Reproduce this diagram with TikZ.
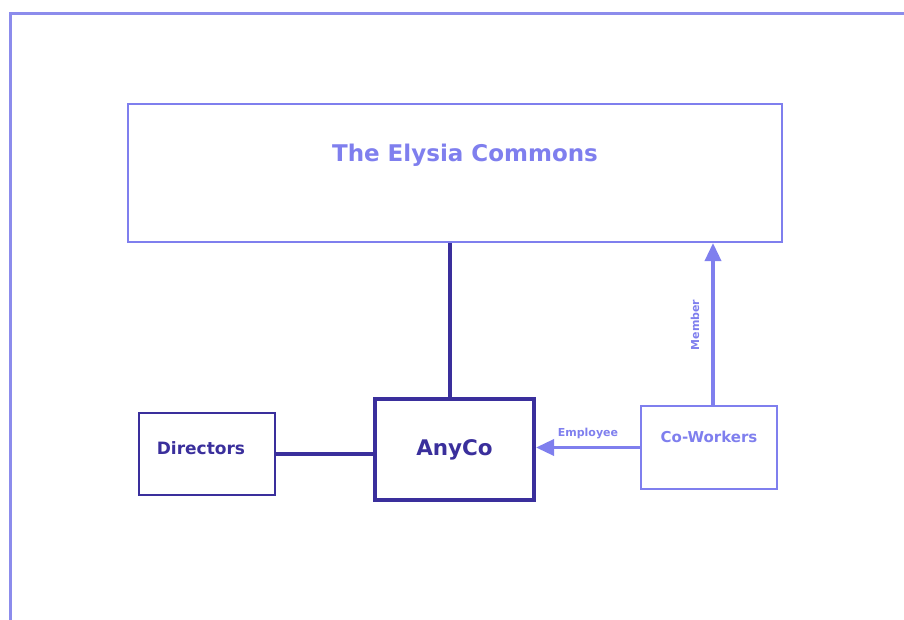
\documentclass[tikz,border=0pt]{standalone}
\usepackage{fontspec}
\setmainfont{DejaVu Sans}
\usetikzlibrary{arrows.meta,positioning}

\definecolor{lightc}{HTML}{7F7FEE}
\definecolor{darkc}{HTML}{3A2F9C}
\definecolor{framec}{HTML}{8C8CEC}

\begin{document}
\begin{tikzpicture}[x=1pt,y=-1pt,
  lightbox/.style={draw=lightc,line width=2pt,inner sep=0pt},
  darkbox/.style={draw=darkc,line width=2.5pt,inner sep=0pt},
  darkline/.style={draw=darkc,line width=4pt},
  lightarrow/.style={draw=lightc,line width=3.5pt,-{Triangle[length=18pt,width=16pt]}},
  smalltext/.style={text=lightc,font=\bfseries\fontsize{11}{13}\selectfont}]
\useasboundingbox (0,0) rectangle (904,620);
\draw[framec,line width=3pt] (10,630) -- (10,14) -- (914,14);

\node[lightbox,minimum width=654pt,minimum height=138pt,
  label={[text=lightc,font=\bfseries\fontsize{23}{27}\selectfont,xshift=10pt,yshift=18pt]center:The Elysia Commons}]
  (commons) at (455,173) {};
\node[darkbox,minimum width=136pt,minimum height=82pt,
  label={[text=darkc,font=\bfseries\fontsize{17}{20}\selectfont,xshift=-6pt,yshift=6pt]center:Directors}]
  (directors) at (207,454) {};
\node[darkbox,line width=4pt,minimum width=159pt,minimum height=101pt,
  text=darkc,font=\bfseries\fontsize{21.5}{25}\selectfont]
  (anyco) at (454.5,449.5) {AnyCo};
\node[lightbox,minimum width=136pt,minimum height=83pt,
  label={[text=lightc,font=\bfseries\fontsize{15}{18}\selectfont,yshift=11pt]center:Co-Workers}]
  (coworkers) at (709,447.5) {};

% links
\draw[darkline] ([xshift=-5pt]anyco.north) -- ([xshift=-5pt]anyco.north |- commons.south);
\draw[darkline] (directors.east) -- (directors.east -| anyco.west);
\draw[lightarrow] (coworkers.west) -- (coworkers.west -| anyco.east)
  node[smalltext,midway,above=4pt] (employee) {Employee};
\draw[lightarrow] ([xshift=4pt]coworkers.north) -- ([xshift=4pt]coworkers.north |- commons.south);
\node[smalltext,rotate=90] (member) at (695,325) {Member};
\end{tikzpicture}
\end{document}
